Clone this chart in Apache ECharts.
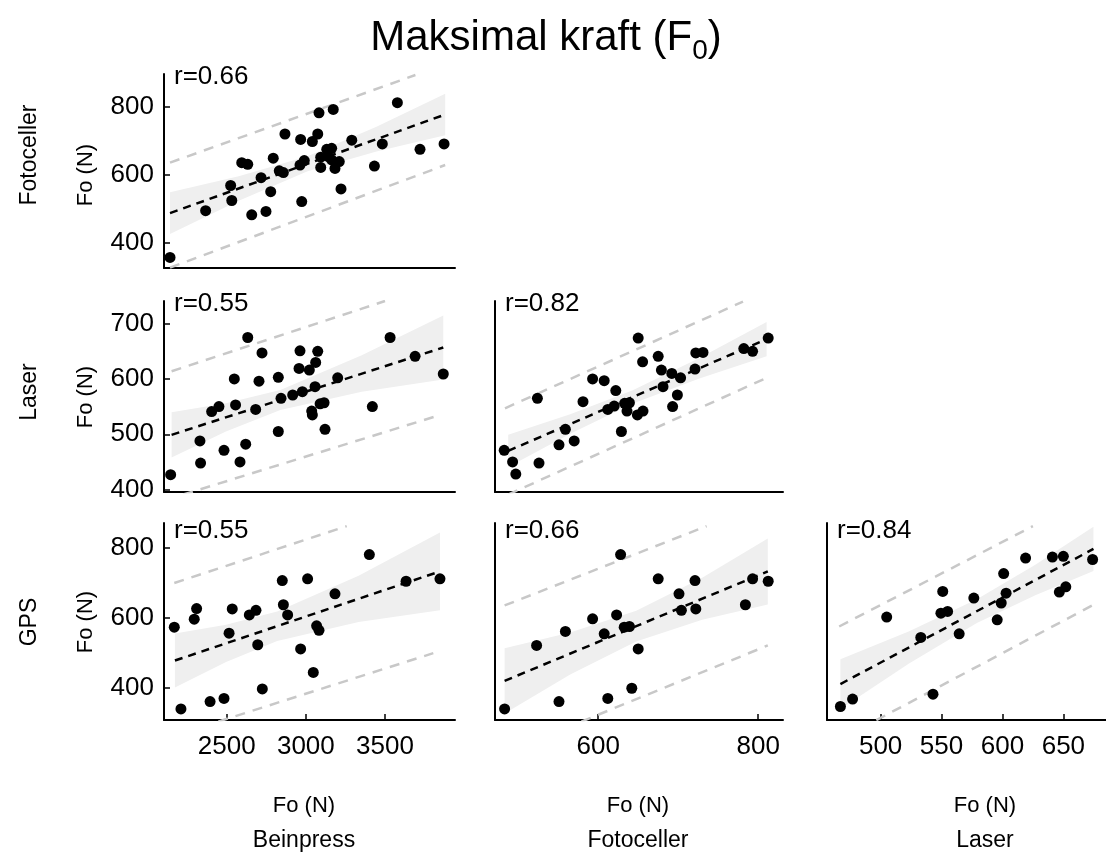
<!DOCTYPE html>
<html>
<head>
<meta charset="utf-8">
<title>Maksimal kraft (F0)</title>
<script src="https://cdn.jsdelivr.net/npm/echarts@6/dist/echarts.min.js"></script>
<style>
  html, body { margin: 0; padding: 0; background: #fff; }
  #chart { width: 1106px; height: 864px; }
</style>
</head>
<body>
<div id="chart"></div>
<script>
const FONT = '"Liberation Sans", Arial, Helvetica, sans-serif';

// ---- labels ----
const colNames = ['Beinpress', 'Fotoceller', 'Laser'];
const rowNames = ['Fotoceller', 'Laser', 'GPS'];
const axisUnit = 'Fo (N)';

// ---- axes (per column for x, per row for y) ----
const xTicks = [[2500, 3000, 3500], [600, 800], [500, 550, 600, 650]];
const yTicks = [[400, 600, 800], [400, 500, 600, 700], [400, 600, 800]];
const xRange = [[2104, 3942], [471, 831], [456, 685]];
const yRange = [[327, 896], [395.6, 741], [309.5, 871]];

// ---- Beinpress vs Fotoceller ----
const beinFoto = [[2142,358],[2367,495],[2532,525],[2525,569],[2595,636],[2633,631],[2658,483],[2717,592],[2748,493],[2778,551],[2794,649],[2832,612],[2858,607],[2868,720],[2967,704],[2974,522],[2963,629],[2990,642],[3041,698],[3075,720],[3083,782],[3094,652],[3094,622],[3132,675],[3163,678],[3142,654],[3173,792],[3184,619],[3211,639],[3222,559],[3290,702],[3433,626],[3483,691],[3578,812],[3721,675],[3873,691],[3163,644]];
const fitBeinFoto = [[2142,488],[3873,776]];
const bandBeinFoto = [[2142,427,549],[2576,524,596],[3011,611,655],[3446,669,741],[3880,716,838]];
const piUpperBeinFoto = [[2142,636],[3692,893]];
const piLowerBeinFoto = [[2142,328],[3880,629]];

// ---- Beinpress vs Laser ----
const beinLaser = [[2146,427],[2331,488],[2335,448],[2405,541],[2451,550],[2483,471],[2548,600],[2556,553],[2584,450],[2620,482],[2633,675],[2683,545],[2704,596],[2723,647],[2826,603],[2826,505],[2843,565],[2917,571],[2957,619],[2963,651],[2978,577],[3022,616],[3037,542],[3041,535],[3058,586],[3062,630],[3075,650],[3090,555],[3115,557],[3121,509],[3201,602],[3420,550],[3532,675],[3690,641],[3868,609]];
const fitBeinLaser = [[2152,499],[3868,657]];
const bandBeinLaser = [[2152,458,540],[2495,505,556],[2839,544,580],[3353,577,643],[3868,599,715]];
const piUpperBeinLaser = [[2152,614],[3500,741]];
const piLowerBeinLaser = [[2226,391],[3827,533]];

// ---- Fotoceller vs Laser ----
const fotoLaser = [[482.5,471],[493,450],[497,428],[524,565],[526,448],[551,481],[559,509],[570,488],[581,559],[593,600],[607.5,597],[612,545],[622,579],[620,551],[629,505],[633,556],[639,557],[636,542],[649,535],[656,542],[650,674],[655.5,631],[675,641],[679,616],[681,586],[692,610],[693,550],[699,571],[703,602],[721,618],[722,647],[731,648],[782,655],[793,650],[812.5,674]];
const fitFotoLaser = [[487.5,470],[810.5,672]];
const bandFotoLaser = [[487.5,441,499],[565,501,536],[642.5,555,579],[726.5,601,638],[810.5,641,703]];
const piUpperFotoLaser = [[483.5,547],[781,740]];
const piLowerFotoLaser = [[487.5,391],[810.5,602]];

// ---- Beinpress vs GPS ----
const beinGps = [[2169,574],[2211,341],[2295,597],[2310,627],[2395,362],[2483,371],[2515,557],[2535,626],[2643,609],[2685,622],[2696,524],[2725,398],[2851,707],[2858,638],[2885,609],[2967,512],[3011,712],[3047,445],[3068,578],[3083,565],[3184,669],[3401,781],[3633,705],[3847,712]];
const fitBeinGps = [[2173,479],[3847,733]];
const bandBeinGps = [[2173,402,556],[2496,475,581],[2819,535,619],[3333,589,721],[3847,622,844]];
const piUpperBeinGps = [[2169,700],[3258,862]];
const piLowerBeinGps = [[2447,305],[3805,500]];

// ---- Fotoceller vs GPS ----
const fotoGps = [[483,341],[523,522],[551,362],[559,562],[593,598],[607.5,555],[612,371],[623,609],[628,781],[632.5,574],[639,576],[642,400],[650,512],[675,712],[701,669],[704,622],[721,707],[722,626],[784,638],[793,712],[812.5,705]];
const fitFotoGps = [[483,421],[812,733]];
const bandFotoGps = [[483,328,514],[565,439,559],[647.5,533,621],[730,595,715],[812,639,827]];
const piUpperFotoGps = [[483,636],[735.5,862]];
const piLowerFotoGps = [[579,305],[812,522]];

// ---- Laser vs GPS ----
const laserGps = [[467,348],[477,369],[505,603],[533,545],[543,383],[549.5,614],[555,619],[551,676],[564.5,555],[576.5,657],[595.7,595],[599,643],[601,727],[603,671],[619,771],[641,774],[650,776],[646.7,674],[652,689],[674,767]];
const fitLaserGps = [[467,412],[674.7,797]];
const bandLaserGps = [[467,341,483],[523,470,562],[579,586,654],[627,665,752],[674.7,734,860]];
const piUpperLaserGps = [[466,576],[625,862]];
const piLowerLaserGps = [[496.5,309],[674.7,638]];

const panels = [
  { row: 0, col: 0, r: '0.66', points: beinFoto,  fit: fitBeinFoto,  band: bandBeinFoto,  upper: piUpperBeinFoto,  lower: piLowerBeinFoto },
  { row: 1, col: 0, r: '0.55', points: beinLaser, fit: fitBeinLaser, band: bandBeinLaser, upper: piUpperBeinLaser, lower: piLowerBeinLaser },
  { row: 1, col: 1, r: '0.82', points: fotoLaser, fit: fitFotoLaser, band: bandFotoLaser, upper: piUpperFotoLaser, lower: piLowerFotoLaser },
  { row: 2, col: 0, r: '0.55', points: beinGps,   fit: fitBeinGps,   band: bandBeinGps,   upper: piUpperBeinGps,   lower: piLowerBeinGps },
  { row: 2, col: 1, r: '0.66', points: fotoGps,   fit: fitFotoGps,   band: bandFotoGps,   upper: piUpperFotoGps,   lower: piLowerFotoGps },
  { row: 2, col: 2, r: '0.84', points: laserGps,  fit: fitLaserGps,  band: bandLaserGps,  upper: piUpperLaserGps,  lower: piLowerLaserGps }
];

// ---- layout ----
const colLeft = [164, 495, 827];
const colWidth = [291, 288, 279];
const rowTop = [74, 301, 523];
const rowHeight = [194, 191, 197];
const rLabelDy = [3, 3, 8];
const rowLabelY = [155, 392, 622];
const yNameY = [175, 397, 622];
const colCenter = [304, 638, 985];

const TICK_FONT = 26;
const plain = v => String(v);

const grid = [], xAxis = [], yAxis = [], series = [], graphic = [];

panels.forEach((p, i) => {
  grid.push({
    left: colLeft[p.col], top: rowTop[p.row],
    width: colWidth[p.col], height: rowHeight[p.row],
    containLabel: false
  });
  const bottomRow = p.row === 2;
  const firstCol = p.col === 0;
  xAxis.push({
    gridIndex: i, type: 'value',
    min: xRange[p.col][0], max: xRange[p.col][1],
    axisLine: { show: true, onZero: false, lineStyle: { color: '#000', width: 2 } },
    axisTick: { show: bottomRow, inside: true, length: 6, customValues: xTicks[p.col], lineStyle: { color: '#000', width: 1.5 } },
    axisLabel: { show: bottomRow, customValues: xTicks[p.col], formatter: plain, margin: 14, hideOverlap: false, color: '#000', fontSize: TICK_FONT, fontFamily: FONT },
    splitLine: { show: false }
  });
  yAxis.push({
    gridIndex: i, type: 'value',
    min: yRange[p.row][0], max: yRange[p.row][1],
    axisLine: { show: true, onZero: false, lineStyle: { color: '#000', width: 2 } },
    axisTick: { show: firstCol, inside: true, length: 6, customValues: yTicks[p.row], lineStyle: { color: '#000', width: 1.5 } },
    axisLabel: { show: firstCol, customValues: yTicks[p.row], formatter: plain, margin: 10, color: '#000', fontSize: TICK_FONT, fontFamily: FONT },
    splitLine: { show: false }
  });

  // confidence band of the regression line
  const band = p.band;
  series.push({
    type: 'custom', xAxisIndex: i, yAxisIndex: i, silent: true, z: 1, clip: true,
    data: [[band[0][0], band[0][1]]],
    renderItem: (params, api) => {
      const top = band.map(b => api.coord([b[0], b[2]]));
      const bot = band.slice().reverse().map(b => api.coord([b[0], b[1]]));
      return { type: 'polygon', shape: { points: top.concat(bot) }, style: { fill: '#efefef' } };
    }
  });
  // prediction interval lines
  [p.upper, p.lower].forEach(d => series.push({
    type: 'line', xAxisIndex: i, yAxisIndex: i, data: d, symbol: 'none', silent: true, z: 2, clip: true,
    lineStyle: { color: '#c8c8c8', width: 2.5, type: [10, 8] }
  }));
  // regression line
  series.push({
    type: 'line', xAxisIndex: i, yAxisIndex: i, data: p.fit, symbol: 'none', silent: true, z: 3, clip: true,
    lineStyle: { color: '#000', width: 2.5, type: [8, 6] }
  });
  // observations
  series.push({
    type: 'scatter', xAxisIndex: i, yAxisIndex: i, data: p.points, symbolSize: 11, z: 4,
    itemStyle: { color: '#000', opacity: 1 }
  });

  graphic.push({
    type: 'text', left: colLeft[p.col] + 10, top: rowTop[p.row] + rLabelDy[p.row] - 13,
    style: { text: 'r=' + p.r, fill: '#000', font: `${TICK_FONT}px ${FONT}` }, z: 10
  });
});

// title
graphic.push({
  type: 'text', x: 546, y: 38,
  style: {
    text: '{m|Maksimal kraft (F}{s|0}{m|)}',
    align: 'center', verticalAlign: 'middle',
    rich: {
      m: { fontSize: 42, fontFamily: FONT, fill: '#000', lineHeight: 54, verticalAlign: 'middle' },
      s: { fontSize: 28, fontFamily: FONT, fill: '#000', lineHeight: 28, verticalAlign: 'bottom' }
    }
  }
});

// row captions and y-axis names
rowNames.forEach((name, r) => {
  graphic.push({
    type: 'text', x: 30, y: rowLabelY[r], rotation: Math.PI / 2,
    style: { text: name, align: 'center', verticalAlign: 'middle', fill: '#000', font: `23px ${FONT}` }
  });
  graphic.push({
    type: 'text', x: 86, y: yNameY[r], rotation: Math.PI / 2,
    style: { text: axisUnit, align: 'center', verticalAlign: 'middle', fill: '#000', font: `22px ${FONT}` }
  });
});

// column captions and x-axis names
colNames.forEach((name, c) => {
  graphic.push({
    type: 'text', x: colCenter[c], y: 806,
    style: { text: axisUnit, align: 'center', verticalAlign: 'middle', fill: '#000', font: `22px ${FONT}` }
  });
  graphic.push({
    type: 'text', x: colCenter[c], y: 841,
    style: { text: name, align: 'center', verticalAlign: 'middle', fill: '#000', font: `23px ${FONT}` }
  });
});

const chart = echarts.init(document.getElementById('chart'), null, { renderer: 'canvas' });
chart.setOption({
  backgroundColor: '#fff',
  animation: false,
  grid, xAxis, yAxis, series, graphic
});
</script>
</body>
</html>
